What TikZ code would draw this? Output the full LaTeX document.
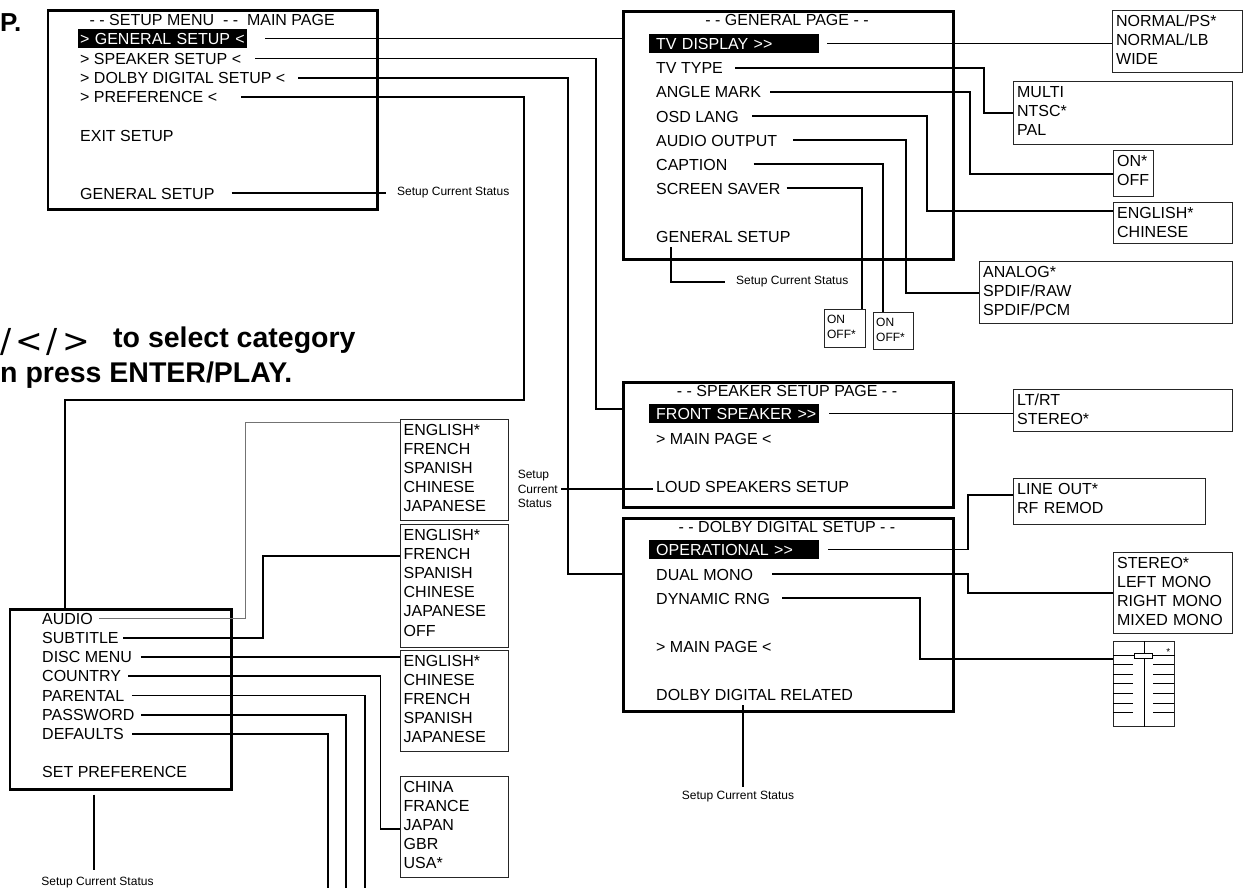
\documentclass[tikz,border=0pt]{standalone}
\usepackage{fontspec}
\setmainfont{Liberation Sans}
\newfontfamily\navfont{DejaVu Sans}
\usetikzlibrary{positioning,calc}

\begin{document}
\begin{tikzpicture}[x=1pt, y=-1pt,
    frame/.style={draw, line width=2.6pt, anchor=north west, inner sep=0pt},
    item/.style={anchor=base west, inner sep=0pt, text height=11.5pt, text depth=0pt,
                 font=\fontsize{16}{19.2}\selectfont},
    title/.style={item, anchor=base},
    hl/.style={item, anchor=west, fill=black, text=white, inner xsep=7pt,
               inner ysep=3.75pt, text width=156pt, align=left},
    opt/.style={draw=black!85, line width=1.3pt, anchor=north west, inner xsep=3.5pt,
                inner ysep=0pt, align=left, text height=15.5pt,
                font=\fontsize{16}{19.2}\selectfont},
    smallopt/.style={opt, inner xsep=2.5pt, text height=14pt,
                     font=\fontsize{12}{15}\selectfont},
    status/.style={inner sep=0pt, font=\fontsize{12}{14.5}\selectfont},
    bigtext/.style={anchor=base west, inner sep=0pt,
                    font=\bfseries\fontsize{28.5}{34}\selectfont},
    wire/.style={line width=1.9pt},
    thinwire/.style={line width=1pt, black!55}]
  \useasboundingbox (0,0) rectangle (1246,888);

  \node[bigtext, font=\bfseries\fontsize{26}{30}\selectfont] (ptail) at (0,32) {P.};
  \node[anchor=base west, inner sep=0pt, font=\navfont\fontsize{33}{36}\selectfont]
    (navkeys) at (0,352) {/\kern4pt<\kern4pt/\kern4pt>};
  \node[bigtext] (selecttext) at (113,347) {to select category};
  \node[bigtext] (presstext) at (0,382) {n press ENTER/PLAY.};

  \node[frame, minimum width=329.5pt, minimum height=199pt] (mainframe) at (46.5,9.3) {};
  \node[item] (maintitle) at (89.5,26) {- - SETUP MENU\ \ - -\ \ MAIN PAGE};
  \node[hl, inner xsep=2.5pt, text width=164.5pt] (mgeneral) at (77.5,38.5) {\mbox{> GENERAL SETUP <}};
  \node[item] (mspeaker) at (80,64.3) {> SPEAKER SETUP <};
  \node[item] (mdolby) at (80,83.5) {> DOLBY DIGITAL SETUP <};
  \node[item] (mpref) at (80,102.8) {> PREFERENCE <};
  \node[item] (mexit) at (80,141) {EXIT SETUP};
  \node[item] (msetup) at (80,199) {GENERAL SETUP};
  \node[status, anchor=west] (mstatus) at (397,193) {Setup Current Status};
  \draw[wire, shorten <=17pt, shorten >=11pt] (msetup.east) -- (msetup.east -| mstatus.west);

  \node[frame, minimum width=330pt, minimum height=248pt] (genframe) at (622,10) {};
  \node[title] (gentitle) at (787,26) {- - GENERAL PAGE - -};
  \node[hl] (tvdisplay) at (649,43.5) {\mbox{TV DISPLAY >{}>}};
  \node[item] (tvtype) at (656,74) {TV TYPE};
  \node[item] (anglemark) at (656,98) {ANGLE MARK};
  \node[item] (osdlang) at (656,122) {OSD LANG};
  \node[item] (audioout) at (656,146) {AUDIO OUTPUT};
  \node[item] (caption) at (656,170) {CAPTION};
  \node[item] (saver) at (656,194) {SCREEN SAVER};
  \node[item] (gsetup) at (656,242) {GENERAL SETUP};
  \node[status, anchor=west] (gstatus) at (736,282) {Setup Current Status};
  \draw[wire, shorten <=5pt, shorten >=11pt] ([xshift=15pt]gsetup.south west) |- (gstatus.west);

  \node[opt, text width=123pt, text depth=46.5pt] (tvdispopt) at (1112,10) {NORMAL/PS*\\NORMAL/LB\\WIDE};
  \node[opt, text width=212pt, text depth=47.5pt] (tvtypeopt) at (1013,81) {MULTI\\NTSC*\\PAL};
  \node[opt, text width=33pt, text depth=30.5pt] (angleopt) at (1113,150) {ON*\\OFF};
  \node[opt, text width=112pt, text depth=25.5pt] (osdopt) at (1113,202) {ENGLISH*\\CHINESE};
  \node[opt, text width=246pt, text depth=46.5pt] (audioopt) at (979,261) {ANALOG*\\SPDIF/RAW\\SPDIF/PCM};
  \node[smallopt, text width=36pt, text depth=24pt] (saveropt) at (824,309) {ON\\OFF*};
  \node[smallopt, text width=35pt, text depth=23pt] (captionopt) at (873,312) {ON\\OFF*};

  \draw[wire, shorten <=8pt] (tvdisplay.east) -- (tvdisplay.east -| tvdispopt.west);
  \draw[wire, shorten <=12pt] (tvtype.east) -| (984,0 |- tvtypeopt.west) -- (tvtypeopt.west);
  \draw[wire, shorten <=9pt] (anglemark.east) -| (970,0 |- angleopt.west) -- (angleopt.west);
  \coordinate (osdin) at ($(osdopt.north west)+(0,9)$);
  \draw[wire, shorten <=13pt] (osdlang.east) -| (927,0 |- osdin) -- (osdin);
  \draw[wire, shorten <=16pt] (audioout.east) -| (906,0 |- audioopt.west) -- (audioopt.west);
  \draw[wire, shorten <=26pt] (caption.east) -| (883,0 |- captionopt.north);
  \draw[wire, shorten <=6pt] (saver.east) -| (862,0 |- saveropt.north);

  \node[frame, minimum width=330pt, minimum height=125pt] (spkframe) at (622,381) {};
  \node[title] (spktitle) at (787,396) {- - SPEAKER SETUP PAGE - -};
  \node[hl] (frontspk) at (649,413.5) {\mbox{FRONT SPEAKER >{}>}};
  \node[item] (spkmain) at (656,444) {> MAIN PAGE <};
  \node[item] (loudspk) at (656,492) {LOUD SPEAKERS SETUP};
  \node[status, align=left, anchor=east] (spkstatus) at (558,489) {Setup\\Current\\Status};
  \draw[wire, shorten <=3pt, shorten >=3pt] (spkstatus.east) -- (spkstatus.east -| loudspk.west);
  \node[opt, text width=212pt, text depth=26.5pt] (frontopt) at (1013,389) {LT/RT\\STEREO*};
  \draw[wire, shorten <=10pt] (frontspk.east) -- (frontspk.east -| frontopt.west);

  \node[frame, minimum width=330pt, minimum height=193pt] (dolbyframe) at (622,517) {};
  \node[title] (dolbytitle) at (787,532) {- - DOLBY DIGITAL SETUP - -};
  \node[hl] (operational) at (649,549.5) {\mbox{OPERATIONAL >{}>}};
  \node[item] (dualmono) at (656,580) {DUAL MONO};
  \node[item] (dynrng) at (656,604) {DYNAMIC RNG};
  \node[item] (dolbymain) at (656,652) {> MAIN PAGE <};
  \node[item] (dolbyrel) at (656,700) {DOLBY DIGITAL RELATED};
  \node[status] (dolbystatus) at (738,797) {Setup Current Status};
  \draw[wire, shorten <=5pt, shorten >=4.5pt] ([xshift=5pt]dolbyrel.south -| dolbystatus.north) -- ([xshift=5pt]dolbystatus.north);

  \node[opt, text width=185pt, text depth=30.5pt] (operopt) at (1013,478) {LINE OUT*\\RF REMOD};
  \node[opt, text width=112pt, text depth=65.5pt] (monoopt) at (1113,552) {STEREO*\\LEFT MONO\\RIGHT MONO\\MIXED MONO};
  \node[draw=black!85, line width=1.2pt, anchor=north west, inner sep=0pt,
        minimum width=61pt, minimum height=85pt] (slider) at (1113,641) {};
  \draw[line width=1pt] (slider.north) -- (slider.south);
  \draw[line width=1pt] ($(slider.north west)+(0,14)$) -- ($(slider.north east)+(0,14)$);
  \foreach \ty in {23,33,42,52,62,71} {
    \draw[line width=1pt] ($(slider.north west)+(0,\ty)$) -- ++(20,0);
    \draw[line width=1pt] ($(slider.north east)+(-22,\ty)$) -- ++(21,0);
  }
  \draw[line width=1pt, fill=white] ($(slider.north)+(-10,12)$) rectangle ($(slider.north)+(8,17)$);
  \node[inner sep=0pt, font=\fontsize{10}{10}\selectfont] (sliderstar) at ($(slider.north east)+(-7,11)$) {*};

  \coordinate (operin) at ($(operopt.north west)+(0,17)$);
  \draw[wire, shorten <=9pt] (operational.east) -| (968,0 |- operin) -- (operin);
  \draw[wire, shorten <=19pt] (dualmono.east) -| (968,0 |- monoopt.west) -- (monoopt.west);
  \coordinate (sliderin) at ($(slider.north west)+(0,18)$);
  \draw[wire, shorten <=12pt] (dynrng.east) -| (920,0 |- sliderin) -- (sliderin);

  \node[frame, minimum width=221.4pt, minimum height=180pt] (prefframe) at (8.6,608) {};
  \node[item] (audio) at (42,624) {AUDIO};
  \node[item] (subtitle) at (42,643.3) {SUBTITLE};
  \node[item] (discmenu) at (42,662.6) {DISC MENU};
  \node[item] (country) at (42,681.9) {COUNTRY};
  \node[item] (parental) at (42,701.2) {PARENTAL};
  \node[item] (password) at (42,720.5) {PASSWORD};
  \node[item] (defaults) at (42,739.8) {DEFAULTS};
  \node[item] (setpref) at (42,777) {SET PREFERENCE};
  \node[status] (prefstatus) at (97.5,883) {Setup Current Status};
  \draw[wire, shorten <=4pt, shorten >=7.5pt] ([xshift=-3.5pt]prefstatus.north |- prefframe.south) -- ([xshift=-3.5pt]prefstatus.north);

  \node[opt, text width=101.5pt, text depth=85.5pt] (audiolist) at (399.5,419) {ENGLISH*\\FRENCH\\SPANISH\\CHINESE\\JAPANESE};
  \node[opt, text width=101.5pt, text depth=107.5pt] (sublist) at (399.5,524) {ENGLISH*\\FRENCH\\SPANISH\\CHINESE\\JAPANESE\\OFF};
  \node[opt, text width=101.5pt, text depth=85.5pt] (disclist) at (399.5,650) {ENGLISH*\\CHINESE\\FRENCH\\SPANISH\\JAPANESE};
  \node[opt, text width=101.5pt, text depth=85.5pt] (countrylist) at (399.5,776) {CHINA\\FRANCE\\JAPAN\\GBR\\USA*};

  \coordinate (audioin) at ($(audiolist.north west)+(0,3)$);
  \draw[thinwire, shorten <=6pt] (audio.east) -| (245.5,0 |- audioin) -- (audioin);
  \coordinate (subin) at ($(sublist.north west)+(0,32)$);
  \draw[wire, shorten <=4.5pt] (subtitle.east) -| (263,0 |- subin) -- (subin);
  \draw[wire, shorten <=8.7pt] (discmenu.east) -- (discmenu.east -| disclist.west);
  \coordinate (countryin) at ($(countrylist.north west)+(0,53)$);
  \draw[wire, shorten <=7pt] (country.east) -| (380.5,0 |- countryin) -- (countryin);
  \coordinate (parentalend) at (365,888);
  \coordinate (passwordend) at (346,888);
  \coordinate (defaultsend) at (328,888);
  \draw[wire, shorten <=7.5pt] (parental.east) -| (parentalend);
  \draw[wire, shorten <=6.7pt] (password.east) -| (passwordend);
  \draw[wire, shorten <=8.4pt] (defaults.east) -| (defaultsend);

  \draw[wire, shorten <=18pt] (mgeneral.east) -- (mgeneral.east -| genframe.west);
  \coordinate (spkin) at ($(spkframe.north west)+(0,28)$);
  \draw[wire, shorten <=14pt] (mspeaker.east) -| (596,0 |- spkin) -- (spkin);
  \draw[wire, shorten <=12.5pt] (mdolby.east) -| (568,0 |- dualmono.west) -- (dolbyframe.west |- dualmono.west);
  \draw[wire, shorten <=24pt] (mpref.east) -| (524,400) -| (65,0 |- prefframe.north);
\end{tikzpicture}
\end{document}
